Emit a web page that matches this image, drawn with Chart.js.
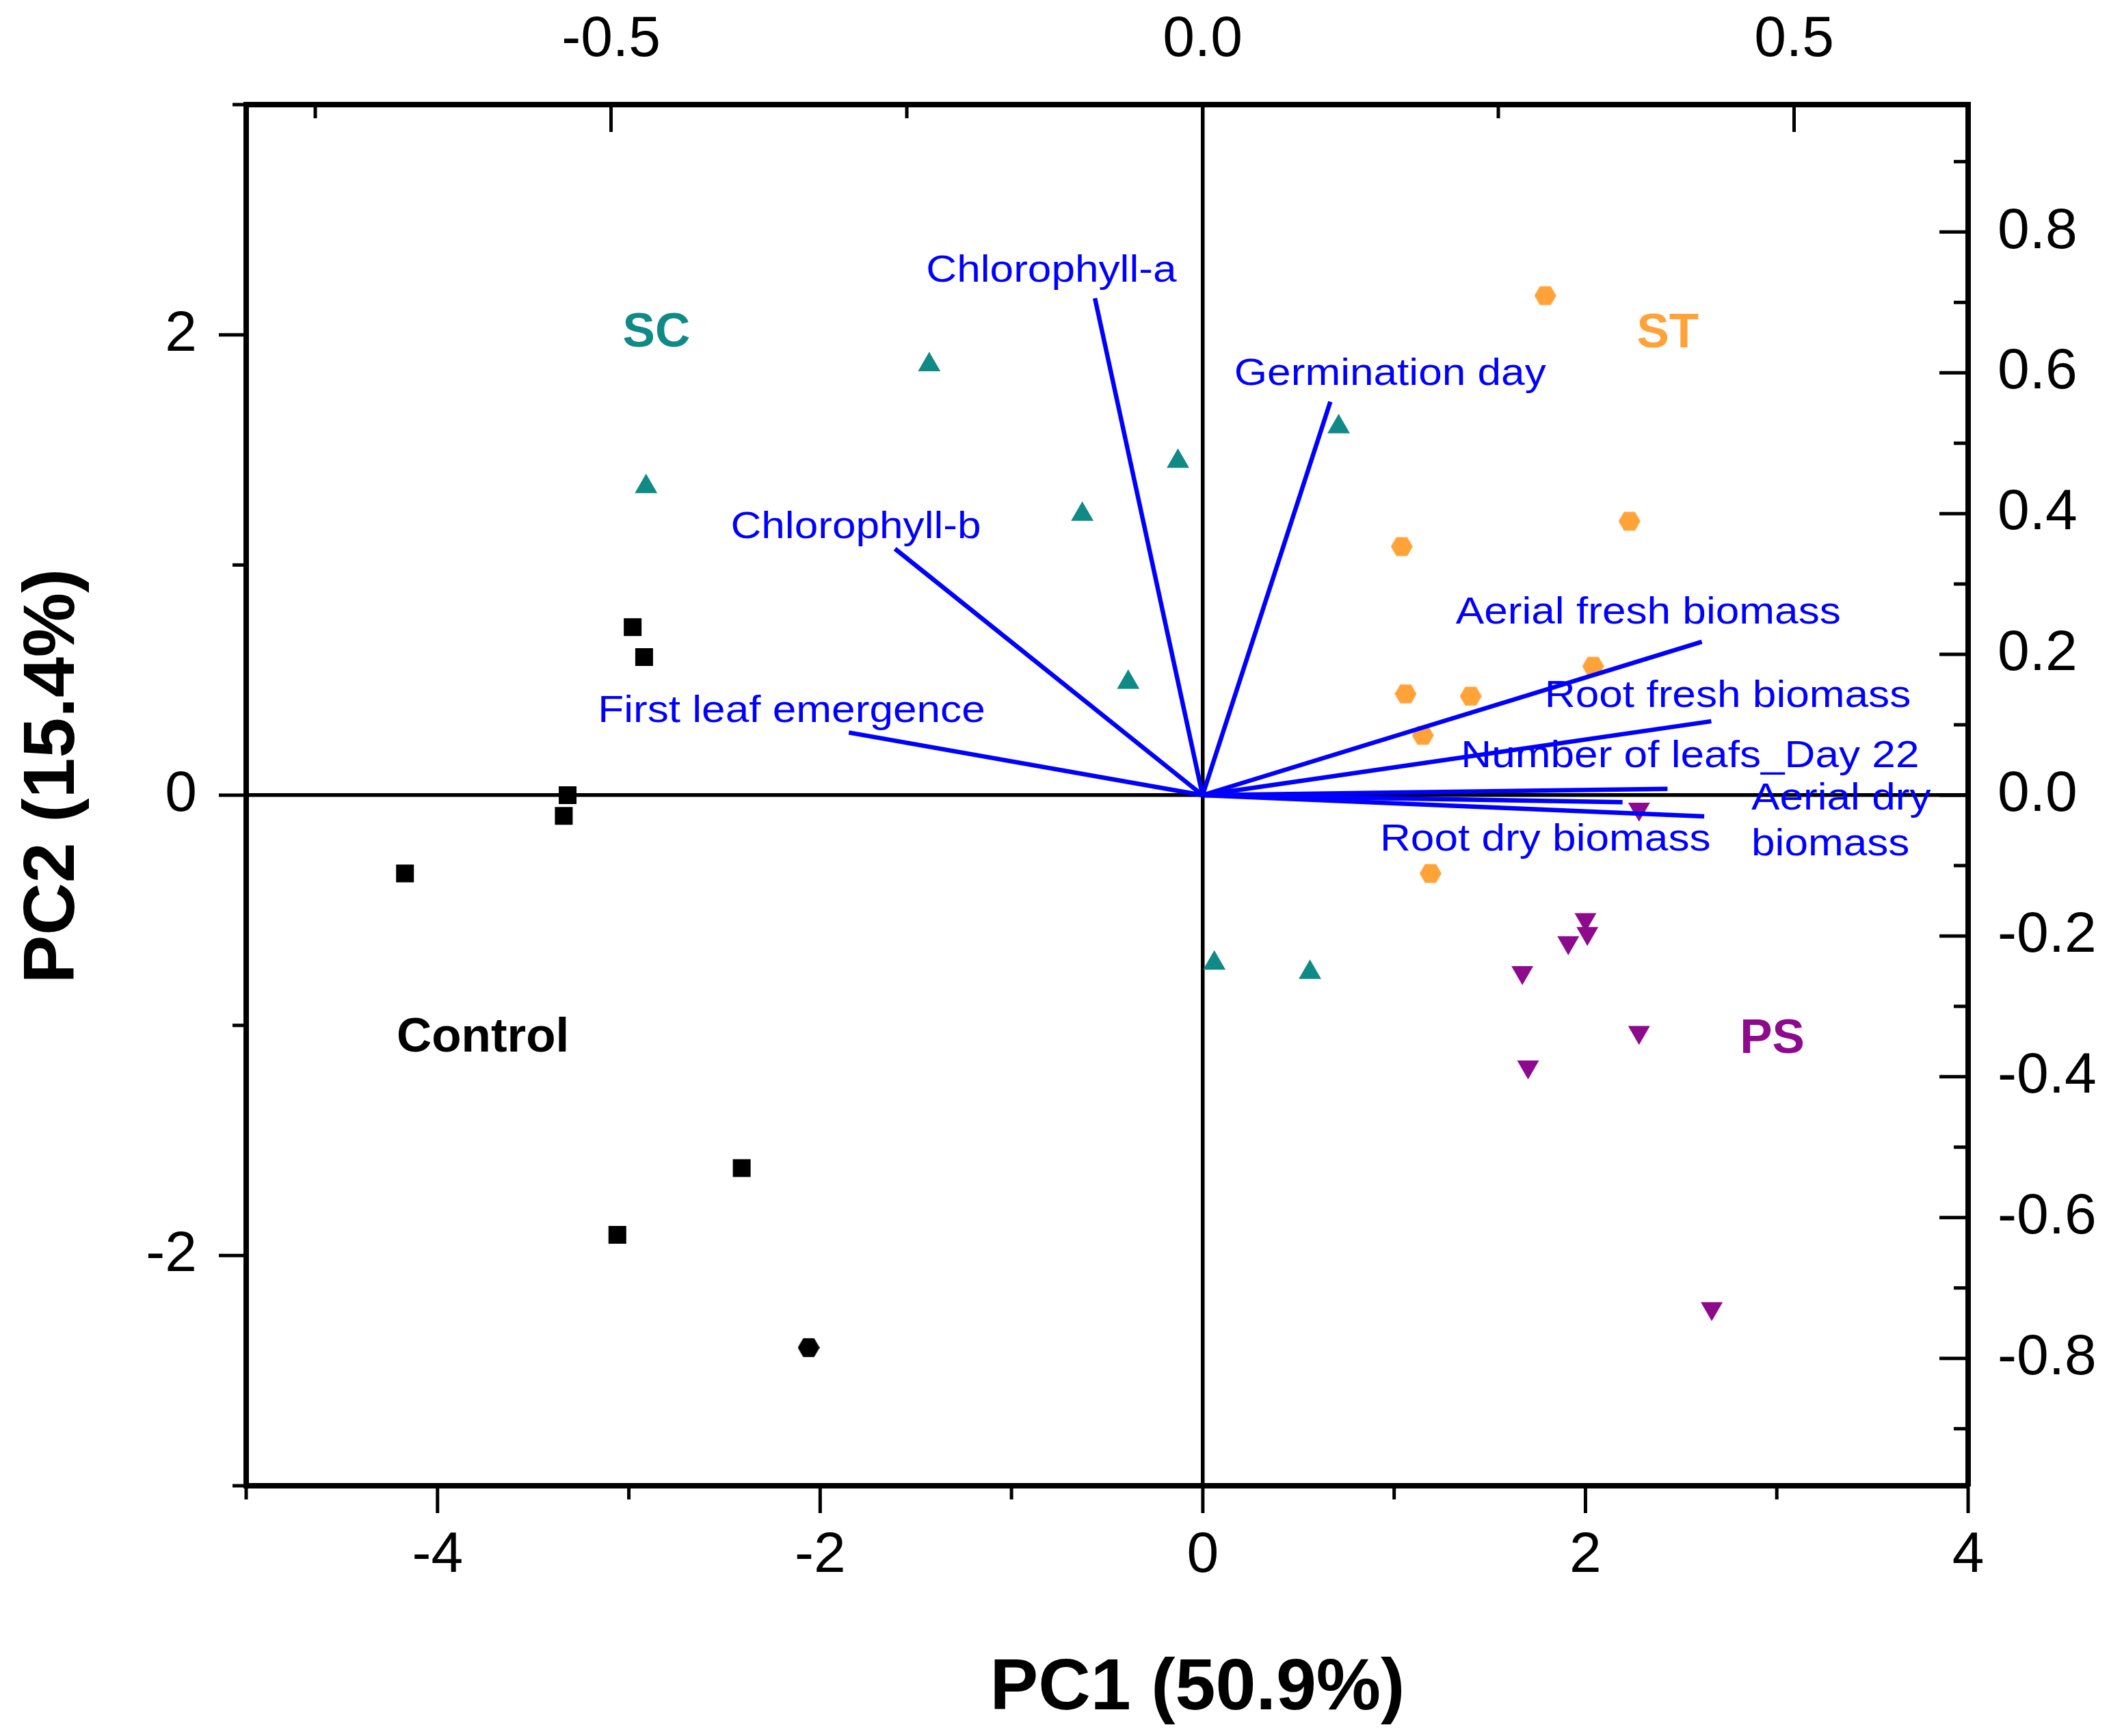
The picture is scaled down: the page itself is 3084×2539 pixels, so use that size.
<!DOCTYPE html>
<html>
<head>
<meta charset="utf-8">
<script src="https://cdn.jsdelivr.net/npm/chart.js@4.4.1/dist/chart.umd.min.js"></script>
<style>
  html, body { margin: 0; padding: 0; background: #fff; }
  #wrap { width: 3084px; height: 2539px; position: relative; }
</style>
</head>
<body>
<div id="wrap"><canvas id="pca"></canvas></div>
<script>
// scores (PC1, PC2) for each treatment
const CONTROL_X = [-2.98, -2.92, -3.32, -3.34, -4.17, -2.41, -3.06, -2.06];
const CONTROL_Y = [0.73, 0.60, 0.00, -0.09, -0.34, -1.62, -1.91, -2.40];
const SC_X = [-1.43, -2.91, -0.13, -0.63, 0.71, -0.39, 0.06, 0.56];
const SC_Y = [1.87, 1.34, 1.45, 1.22, 1.60, 0.49, -0.73, -0.77];
const ST_X = [1.79, 2.23, 1.04, 2.04, 1.06, 1.40, 1.15, 1.19];
const ST_Y = [2.17, 1.19, 1.08, 0.56, 0.44, 0.43, 0.26, -0.34];
const PS_X = [2.28, 2.00, 2.01, 1.91, 1.67, 2.28, 1.70, 2.66];
const PS_Y = [-0.06, -0.54, -0.60, -0.64, -0.77, -1.03, -1.18, -2.23];

// loadings, read on the top / right axes
const LOADING_NAMES = [
  "Chlorophyll-a",
  "Germination day",
  "Chlorophyll-b",
  "First leaf emergence",
  "Aerial fresh biomass",
  "Root fresh biomass",
  "Number of leafs_Day 22",
  "Root dry biomass",
  "Aerial dry\nbiomass",
];
const LOADING_X = [-0.091, 0.108, -0.260, -0.299, 0.422, 0.430, 0.393, 0.355, 0.424];
const LOADING_Y = [0.706, 0.559, 0.350, 0.089, 0.218, 0.105, 0.009, -0.010, -0.030];
// where each loading name starts (PC1 / PC2 units, left edge + baseline)
const LOADING_LABEL_X = [-1.446, 0.164, -2.468, -3.162, 1.322, 1.787, 1.349, 0.926, 2.867];
const LOADING_LABEL_Y = [2.230, 1.781, 1.118, 0.318, 0.745, 0.384, 0.121, -0.240, -0.062];

// group names
const GROUP_NAMES = ["Control", "SC", "ST", "PS"];
const GROUP_LABEL_X = [-3.763, -2.856, 2.430, 2.976];
const GROUP_LABEL_Y = [-1.115, 1.948, 1.947, -1.120];

// ticks
const PC1_TICKS = [-5, -4, -3, -2, -1, 0, 1, 2, 3, 4];
const PC1_LABELS = [-4, -2, 0, 2, 4];
const PC2_TICKS = [-3, -2, -1, 0, 1, 2, 3];
const PC2_LABELS = [-2, 0, 2];
const LOAD_X_TICKS = [-0.75, -0.5, -0.25, 0, 0.25, 0.5];
const LOAD_X_LABELS = [-0.5, 0, 0.5];
const LOAD_Y_TICKS = [-0.9, -0.8, -0.7, -0.6, -0.5, -0.4, -0.3, -0.2, -0.1, 0, 0.1, 0.2, 0.3, 0.4, 0.5, 0.6, 0.7, 0.8, 0.9];
const LOAD_Y_LABELS = [-0.8, -0.6, -0.4, -0.2, 0, 0.2, 0.4, 0.6, 0.8];

const COLORS = {
  control: "#000000",
  sc: "#0f8a86",
  st: "#ffa238",
  ps: "#8d0a8d",
  vector: "#0000ff",
};
const FONT = "'Liberation Sans', Arial, Helvetica, sans-serif";

Chart.defaults.font.family = FONT;
Chart.defaults.color = "#000";

const onList = (list, v) => list.some((t) => Math.abs(t - v) < 1e-6);
const toPoints = (xs, ys) => xs.map((x, i) => ({ x, y: ys[i] }));

// Origin style hexagon marker
const makeHexagon = (color, w) => {
  const c = document.createElement("canvas");
  c.width = w;
  c.height = w;
  const g = c.getContext("2d");
  const r = w / 2;
  g.fillStyle = color;
  g.beginPath();
  for (let i = 0; i < 6; i++) {
    const a = (Math.PI / 3) * i;
    g.lineTo(r + r * Math.cos(a), r + r * Math.sin(a));
  }
  g.closePath();
  g.fill();
  return c;
};

const hexOrange = makeHexagon(COLORS.st, 32);
const hexBlack = makeHexagon(COLORS.control, 32);

// loading vectors first so they sit on top of the scores
const vectorSets = LOADING_NAMES.map((name, i) => ({
  label: name,
  data: [{ x: 0, y: 0 }, { x: LOADING_X[i], y: LOADING_Y[i] }],
  xAxisID: "x2",
  yAxisID: "y2",
  showLine: true,
  borderColor: COLORS.vector,
  borderWidth: 6.5,
  pointRadius: 0,
}));

const scoreSets = [
  {
    label: "Control",
    data: toPoints(CONTROL_X, CONTROL_Y),
    pointStyle: CONTROL_X.map((_, i) => (i === CONTROL_X.length - 1 ? hexBlack : "rect")),
    pointRadius: 18.4,
    backgroundColor: COLORS.control,
    borderWidth: 0,
  },
  {
    label: "SC",
    data: toPoints(SC_X, SC_Y),
    pointStyle: "triangle",
    pointRadius: 19,
    backgroundColor: COLORS.sc,
    borderWidth: 0,
  },
  {
    label: "ST",
    data: toPoints(ST_X, ST_Y),
    pointStyle: hexOrange,
    pointRadius: 16,
    backgroundColor: COLORS.st,
    borderWidth: 0,
  },
  {
    label: "PS",
    data: toPoints(PS_X, PS_Y),
    pointStyle: "triangle",
    pointRotation: 180,
    pointRadius: 18.5,
    backgroundColor: COLORS.ps,
    borderWidth: 0,
  },
].map((d) => ({ ...d, xAxisID: "x", yAxisID: "y", showLine: false }));

// tick marks: major/minor, out on bottom+left, in on top+right
const tickMarks = {
  id: "tickMarks",
  afterDraw(chart) {
    const { ctx, chartArea: a, scales } = chart;
    ctx.save();
    ctx.strokeStyle = "#000";
    ctx.lineWidth = 5;
    const mark = (x1, y1, x2, y2) => {
      ctx.beginPath();
      ctx.moveTo(x1, y1);
      ctx.lineTo(x2, y2);
      ctx.stroke();
    };
    PC1_TICKS.forEach((v) => {
      const p = scales.x.getPixelForValue(v);
      mark(p, a.bottom, p, a.bottom + (onList(PC1_LABELS, v) ? 40 : 20));
    });
    PC2_TICKS.forEach((v) => {
      const p = scales.y.getPixelForValue(v);
      mark(a.left, p, a.left - (onList(PC2_LABELS, v) ? 40 : 20), p);
    });
    LOAD_X_TICKS.forEach((v) => {
      const p = scales.x2.getPixelForValue(v);
      mark(p, a.top, p, a.top + (onList(LOAD_X_LABELS, v) ? 40 : 20));
    });
    LOAD_Y_TICKS.forEach((v) => {
      const p = scales.y2.getPixelForValue(v);
      mark(a.right, p, a.right - (onList(LOAD_Y_LABELS, v) ? 42 : 21), p);
    });
    ctx.restore();
  },
};

// variable names, group names and axis titles
const annotations = {
  id: "annotations",
  afterDraw(chart) {
    const { ctx, scales: { x, y } } = chart;
    ctx.save();
    ctx.textBaseline = "alphabetic";

    ctx.fillStyle = COLORS.vector;
    ctx.font = `55px ${FONT}`;
    ctx.textAlign = "left";
    LOADING_NAMES.forEach((name, i) => {
      const px = x.getPixelForValue(LOADING_LABEL_X[i]);
      const py = y.getPixelForValue(LOADING_LABEL_Y[i]);
      name.split("\n").forEach((line, k) => {
        ctx.save();
        ctx.translate(px, py + k * 67);
        ctx.scale(1.13, 1);
        ctx.fillText(line, 0, 0);
        ctx.restore();
      });
    });

    const groupColors = [COLORS.control, COLORS.sc, COLORS.st, COLORS.ps];
    ctx.font = `bold 71px ${FONT}`;
    ctx.textAlign = "center";
    GROUP_NAMES.forEach((name, i) => {
      ctx.fillStyle = groupColors[i];
      ctx.fillText(name, x.getPixelForValue(GROUP_LABEL_X[i]), y.getPixelForValue(GROUP_LABEL_Y[i]));
    });

    ctx.fillStyle = "#000";
    ctx.font = `bold 106px ${FONT}`;
    ctx.fillText("PC1 (50.9%)", 1751, 2500);
    ctx.save();
    ctx.translate(108, 1135);
    ctx.rotate(-Math.PI / 2);
    ctx.fillText("PC2 (15.4%)", 0, 0);
    ctx.restore();

    ctx.restore();
  },
};

const tickFont = { size: 84 };
const border = { display: true, color: "#000", width: 8 };
const zeroLine = {
  drawTicks: false,
  color: (c) => (c.tick && c.tick.value === 0 ? "#000" : "rgba(0,0,0,0)"),
  lineWidth: (c) => (c.tick && c.tick.value === 0 ? 5.5 : 0),
};

new Chart(document.getElementById("pca"), {
  type: "scatter",
  data: { datasets: [...vectorSets, ...scoreSets] },
  options: {
    responsive: true,
    maintainAspectRatio: false,
    devicePixelRatio: 1,
    animation: false,
    layout: { padding: 0 },
    plugins: {
      legend: { display: false },
      tooltip: { enabled: false },
    },
    scales: {
      x: {
        type: "linear",
        position: "bottom",
        min: -5,
        max: 4,
        afterBuildTicks: (s) => { s.ticks = PC1_TICKS.map((v) => ({ value: v })); },
        afterFit: (s) => { s.height = 366; },
        grid: zeroLine,
        border,
        ticks: {
          autoSkip: false,
          maxRotation: 0,
          padding: 52,
          font: tickFont,
          color: "#000",
          callback: (v) => (onList(PC1_LABELS, v) ? String(v) : ""),
        },
      },
      y: {
        type: "linear",
        position: "left",
        min: -3,
        max: 3,
        afterBuildTicks: (s) => { s.ticks = PC2_TICKS.map((v) => ({ value: v })); },
        afterFit: (s) => { s.width = 360; },
        grid: zeroLine,
        border,
        ticks: {
          autoSkip: false,
          padding: 72,
          font: tickFont,
          color: "#000",
          callback: (v) => (onList(PC2_LABELS, v) ? String(v) : ""),
        },
      },
      x2: {
        type: "linear",
        position: "top",
        min: -0.8084,
        max: 0.6471,
        afterBuildTicks: (s) => { s.ticks = LOAD_X_TICKS.map((v) => ({ value: v })); },
        afterFit: (s) => { s.height = 153; },
        grid: { display: false, drawTicks: false },
        border,
        ticks: {
          autoSkip: false,
          maxRotation: 0,
          padding: 44,
          font: tickFont,
          color: "#000",
          callback: (v) => (onList(LOAD_X_LABELS, v) ? v.toFixed(1) : ""),
        },
      },
      y2: {
        type: "linear",
        position: "right",
        min: -0.981,
        max: 0.981,
        afterBuildTicks: (s) => { s.ticks = LOAD_Y_TICKS.map((v) => ({ value: v })); },
        afterFit: (s) => { s.width = 206; },
        grid: { display: false, drawTicks: false },
        border,
        ticks: {
          autoSkip: false,
          padding: 43,
          font: tickFont,
          color: "#000",
          callback: (v) => (onList(LOAD_Y_LABELS, v) ? v.toFixed(1) : ""),
        },
      },
    },
  },
  plugins: [tickMarks, annotations],
});
</script>
</body>
</html>
